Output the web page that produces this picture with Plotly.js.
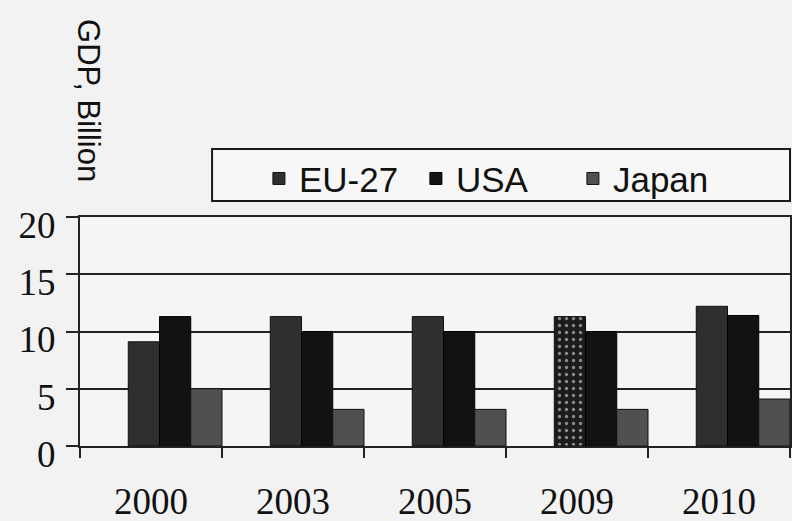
<!DOCTYPE html>
<html>
<head>
<meta charset="utf-8">
<script src="https://cdn.plot.ly/plotly-3.0.1.min.js"></script>
<style>
  html, body { margin: 0; padding: 0; background: #f2f2f2; }
  #chart { width: 792px; height: 521px; }
</style>
</head>
<body>
<div id="chart"></div>
<script>
// ---- data ----
var years = ['2000', '2003', '2005', '2009', '2010'];
var euValues = [9.1, 11.3, 11.3, 11.3, 12.2];
var usaValues = [11.3, 10.0, 10.0, 10.0, 11.4];
var japanValues = [5.0, 3.2, 3.2, 3.2, 4.1];
var seriesNames = ['EU-27', 'USA', 'Japan'];
var yTickValues = [0, 5, 10, 15, 20];

var barWidth = 0.22;

var traces = [
  {
    type: 'bar', name: seriesNames[0], x: years, y: euValues,
    width: barWidth, offset: -0.16,
    marker: {
      color: '#2f2f2f',
      line: { color: '#111', width: 1 },
      pattern: { shape: ['', '', '', '.', ''], fgcolor: '#8a8a8a', bgcolor: '#1c1c1c', size: 7, solidity: 0.18 }
    }
  },
  {
    type: 'bar', name: seriesNames[1], x: years, y: usaValues,
    width: barWidth, offset: 0.06,
    marker: { color: '#121212', line: { color: '#000', width: 1 } }
  },
  {
    type: 'bar', name: seriesNames[2], x: years, y: japanValues,
    width: barWidth, offset: 0.28,
    marker: { color: '#505050', line: { color: '#111', width: 1 } }
  }
];

var layout = {
  width: 792,
  height: 521,
  margin: { l: 80, r: 2, t: 217, b: 75 },
  paper_bgcolor: '#f2f2f2',
  plot_bgcolor: '#f5f5f5',
  barmode: 'group',
  showlegend: true,
  legend: {
    orientation: 'h',
    x: 0.252, xanchor: 'left',
    y: 1.296, yanchor: 'top',
    bgcolor: 'rgba(0,0,0,0)',
    borderwidth: 0,
    entrywidth: 112,
    font: { family: 'Liberation Sans, Arial, sans-serif', size: 35, color: '#111' },
    traceorder: 'normal'
  },
  xaxis: {
    type: 'category',
    range: [-0.5, 4.5],
    tickson: 'boundaries',
    ticks: 'outside',
    ticklen: 10,
    tickwidth: 2,
    tickcolor: '#222',
    showline: true,
    linecolor: '#222',
    linewidth: 2,
    mirror: true,
    showgrid: false,
    ticklabelstandoff: 22,
    tickfont: { family: 'Liberation Serif, Times New Roman, serif', size: 37, color: '#111' },
    fixedrange: true
  },
  yaxis: {
    range: [0, 20],
    tickvals: yTickValues,
    ticks: 'outside',
    ticklen: 12,
    tickwidth: 2,
    tickcolor: '#222',
    showline: true,
    linecolor: '#222',
    linewidth: 2,
    mirror: true,
    showgrid: true,
    gridcolor: '#222',
    gridwidth: 2,
    zeroline: false,
    ticklabelstandoff: 3,
    ticklabelshift: 8,
    tickfont: { family: 'Liberation Serif, Times New Roman, serif', size: 37, color: '#111' },
    fixedrange: true
  },
  shapes: [
    {
      type: 'rect', xref: 'paper', yref: 'paper',
      x0: 0.186, x1: 1.0, y0: 1.070, y1: 1.297,
      line: { color: '#1a1a1a', width: 2 },
      fillcolor: 'rgba(255,255,255,0.4)',
      layer: 'below'
    }
  ],
  annotations: [
    {
      text: 'GDP, Billion',
      xref: 'paper', yref: 'paper',
      x: 0.011, y: 1.507,
      xanchor: 'center', yanchor: 'middle',
      textangle: 90,
      showarrow: false,
      font: { family: 'Liberation Sans, Arial, sans-serif', size: 31, color: '#111' }
    }
  ]
};

Plotly.newPlot('chart', traces, layout, { staticPlot: true, displayModeBar: false });
</script>
</body>
</html>
